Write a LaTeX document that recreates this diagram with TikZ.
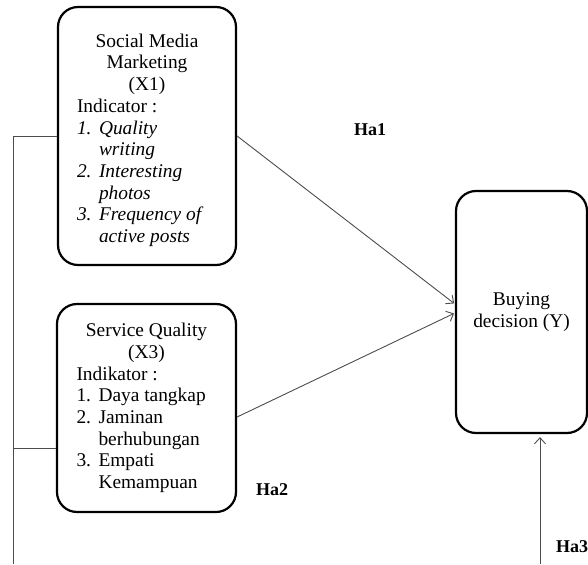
\documentclass[tikz,border=0pt]{standalone}
\usepackage{fontspec}
\setmainfont{Liberation Serif}
\usetikzlibrary{arrows.meta}
\tikzset{
	varbox/.style={draw, line width=2.2pt, rounded corners=20pt, inner sep=0pt, align=center,
			font=\fontsize{19.4}{21.7}\selectfont},
	link/.style={draw=black!70, line width=0.9pt, -{Straight Barb[length=6pt,width=11pt]}},
	rail/.style={draw=black!70, line width=0.9pt},
	hyp/.style={font=\fontsize{18}{20}\selectfont\bfseries}
}
\newcommand{\lline}[1]{\makebox[140pt][l]{#1}}
\newcommand{\litem}[2]{\lline{\makebox[22pt][l]{#1}#2}}

\begin{document}
\begin{tikzpicture}[x=1pt,y=-1pt]
		\useasboundingbox (0,0) rectangle (588,564);
		\node[varbox, minimum width=178pt, minimum height=258pt] (smm) at (147,136)
			{\rule{0pt}{22pt}Social Media\\ Marketing\\ (X1)\\ \lline{Indicator :}\\
				\litem{\textit{1.}}{\textit{Quality}}\\ \litem{}{\textit{writing}}\\
				\litem{\textit{2.}}{\textit{Interesting}}\\ \litem{}{\textit{photos}}\\
				\litem{\textit{3.}}{\textit{Frequency of}}\\ \litem{}{\textit{active posts}}};
		\node[varbox, minimum width=179pt, minimum height=208pt] (srq) at (146.5,408)
			{Service Quality\\ (X3)\\ \lline{Indikator :}\\
				\litem{1.}{Daya tangkap}\\ \litem{2.}{Jaminan}\\ \litem{}{berhubungan}\\
				\litem{3.}{Empati}\\ \litem{}{Kemampuan}};
		\node[varbox, minimum width=131pt, minimum height=242pt] (buy) at (521.5,312)
			{Buying\\ decision (Y)};
		\node[hyp] (ha1) at (370,130) {Ha1};
		\node[hyp] (ha2) at (272,490) {Ha2};
		\node[hyp] (ha3) at (572,547) {Ha3};
		\coordinate (railtop) at (13,136);
		\coordinate (railmid) at (13,448);
		\coordinate (railbot) at (13,564);
		\coordinate (h3foot) at (540,564);
		\draw[link, shorten >=1pt] (smm.east) -- ([yshift=8pt]buy.west);
		\draw[link, shorten >=1pt] ([yshift=-9pt]srq.east) -- ([yshift=-1pt]buy.west);
		\draw[link, shorten >=3pt] (h3foot) -- (h3foot |- buy.south);
		\draw[rail] (smm.west) -- (railtop) -- (railbot);
		\draw[rail] (railmid) -- (srq.west |- railmid);
	\end{tikzpicture}
\end{document}
